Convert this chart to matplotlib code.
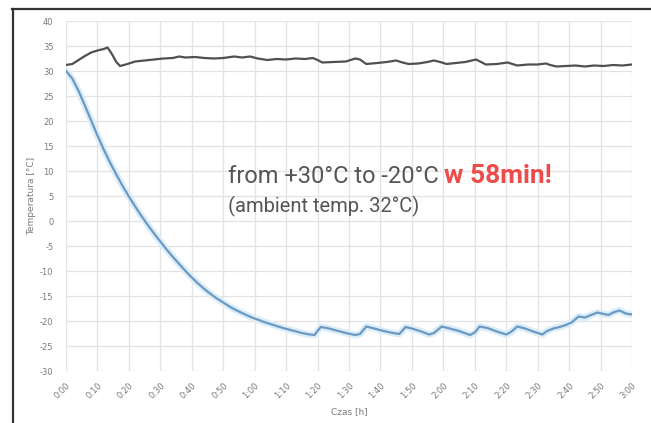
import matplotlib
matplotlib.use("Agg")
import matplotlib.pyplot as plt
from matplotlib.lines import Line2D

# time in minutes
t_gray = [0, 2, 4, 6, 8, 10, 12, 13.2, 14.5, 16, 17.2, 19, 22, 25, 28, 31, 34, 36, 38, 41, 44, 47, 50,
          53.5, 56, 58.5, 61, 64, 67, 70, 73, 76, 78.5, 80, 81.5, 85, 89, 92, 93.5, 95.5, 99, 102, 105,
          107, 109, 112, 115, 117, 119, 121, 124, 127, 130.4, 132, 133.5, 137, 140.4, 142, 143.5, 147,
          150, 152.6, 154, 156, 159, 162, 165, 168, 171, 174, 177, 180]
v_gray = [31.2, 31.4, 32.2, 33.0, 33.7, 34.1, 34.4, 34.7, 33.5, 31.8, 31.0, 31.3, 31.9, 32.1, 32.3, 32.5,
          32.6, 32.9, 32.7, 32.8, 32.6, 32.5, 32.6, 32.9, 32.7, 32.9, 32.5, 32.2, 32.4, 32.3, 32.5, 32.4,
          32.6, 32.2, 31.7, 31.8, 31.9, 32.5, 32.3, 31.4, 31.6, 31.8, 32.1, 31.7, 31.4, 31.5, 31.8, 32.1,
          31.8, 31.4, 31.6, 31.8, 32.3, 31.8, 31.3, 31.4, 31.7, 31.4, 31.1, 31.3, 31.3, 31.5, 31.2, 30.9,
          31.0, 31.1, 30.9, 31.1, 31.0, 31.2, 31.1, 31.3]

t_blue = [0, 2, 4, 6, 8, 10, 12, 14, 16, 18, 20, 22, 24, 26, 28, 30, 32, 34, 36, 38, 40, 42, 44, 46, 48,
          50, 52, 54, 56, 58, 60, 63, 66, 69, 72, 75, 77.5, 79, 81, 83, 86, 89, 92, 93.5, 95.5, 98, 101,
          104, 106, 108, 110, 113, 115.5, 117, 119.5, 122, 125, 128.5, 130, 131.5, 134, 137, 140, 141.5,
          143.5, 146, 149, 151.5, 153, 155, 157, 159, 161, 163, 165, 167, 169, 171, 172.5, 174, 176, 178, 180]
v_blue = [30.0, 28.5, 26.0, 23.1, 20.1, 17.1, 14.3, 11.7, 9.3, 7.0, 4.9, 2.9, 1.0, -0.8, -2.5, -4.1, -5.7,
          -7.2, -8.6, -10.0, -11.3, -12.5, -13.6, -14.6, -15.5, -16.3, -17.1, -17.8, -18.4, -19.0, -19.5,
          -20.2, -20.8, -21.4, -21.9, -22.4, -22.7, -22.8, -21.2, -21.4, -21.9, -22.4, -22.8, -22.6, -21.1,
          -21.5, -22.0, -22.4, -22.6, -21.2, -21.5, -22.1, -22.7, -22.4, -21.1, -21.5, -22.0, -22.8, -22.3,
          -21.1, -21.4, -22.1, -22.7, -22.2, -21.1, -21.5, -22.2, -22.7, -22.0, -21.5, -21.2, -20.8, -20.2,
          -19.1, -19.3, -18.8, -18.3, -18.6, -18.8, -18.3, -17.9, -18.5, -18.7]

x_ticks = list(range(0, 181, 10))
x_labels = [f"{m // 60}:{m % 60:02d}" for m in x_ticks]
y_ticks = list(range(-30, 41, 5))

plt.rcParams['font.family'] = ['DejaVu Sans']
fig = plt.figure(figsize=(6.51, 4.23), dpi=100)
W, H = 651, 423
ax = fig.add_axes([66 / W, 1 - 371 / H, (632 - 66) / W, (371 - 21) / H])

ax.plot(t_blue, v_blue, color="#dcedf8", lw=5, solid_capstyle='round', zorder=2)
ax.plot(t_blue, v_blue, color="#6a9ac4", lw=1.6, zorder=3)
ax.plot(t_gray, v_gray, color="#505050", lw=1.6, zorder=3)

ax.set_xlim(0, 180)
ax.set_ylim(-30, 40)
ax.set_xticks(x_ticks)
ax.set_xticklabels(x_labels, rotation=45, ha='right', rotation_mode='anchor')
ax.set_yticks(y_ticks)
ax.set_yticklabels([str(v) for v in y_ticks])
ax.tick_params(axis='both', length=0, labelsize=6, labelcolor="#7a7a7a")
ax.tick_params(axis='x', pad=7)
ax.tick_params(axis='y', pad=9)
ax.grid(True, color="#e3e3e3", lw=0.9)
ax.set_axisbelow(True)
for s in ax.spines.values():
    s.set_visible(False)

ax.set_ylabel("Temperatura [°C]", fontsize=6.5, color="#7a7a7a", labelpad=3)
ax.set_xlabel("Czas [h]", fontsize=6.5, color="#7a7a7a", labelpad=5)

# frame lines
fig.add_artist(Line2D([12 / W, 1], [1 - 9 / H, 1 - 9 / H], color="#333333", lw=1.6))
fig.add_artist(Line2D([13 / W, 13 / W], [0, 1 - 9 / H], color="#333333", lw=1.6))

t1 = ax.text(51.4, 7.6, "from +30°C to -20°C ", fontsize=17, color="#555555",
             family=['Roboto', 'DejaVu Sans'], va='baseline', ha='left')
fig.canvas.draw()
bb = t1.get_window_extent()
xr = ax.transData.inverted().transform((bb.x1, bb.y0))[0]
ax.text(xr, 7.6, "w 58min!", fontsize=19, color="#ee4b4b", fontweight='bold',
        family=['Roboto', 'DejaVu Sans'], va='baseline', ha='left')
ax.text(51.4, 1.7, "(ambient temp. 32°C)", fontsize=14.5, color="#555555",
        family=['Roboto', 'DejaVu Sans'], va='baseline', ha='left')

fig.savefig("out.png", dpi=100)
